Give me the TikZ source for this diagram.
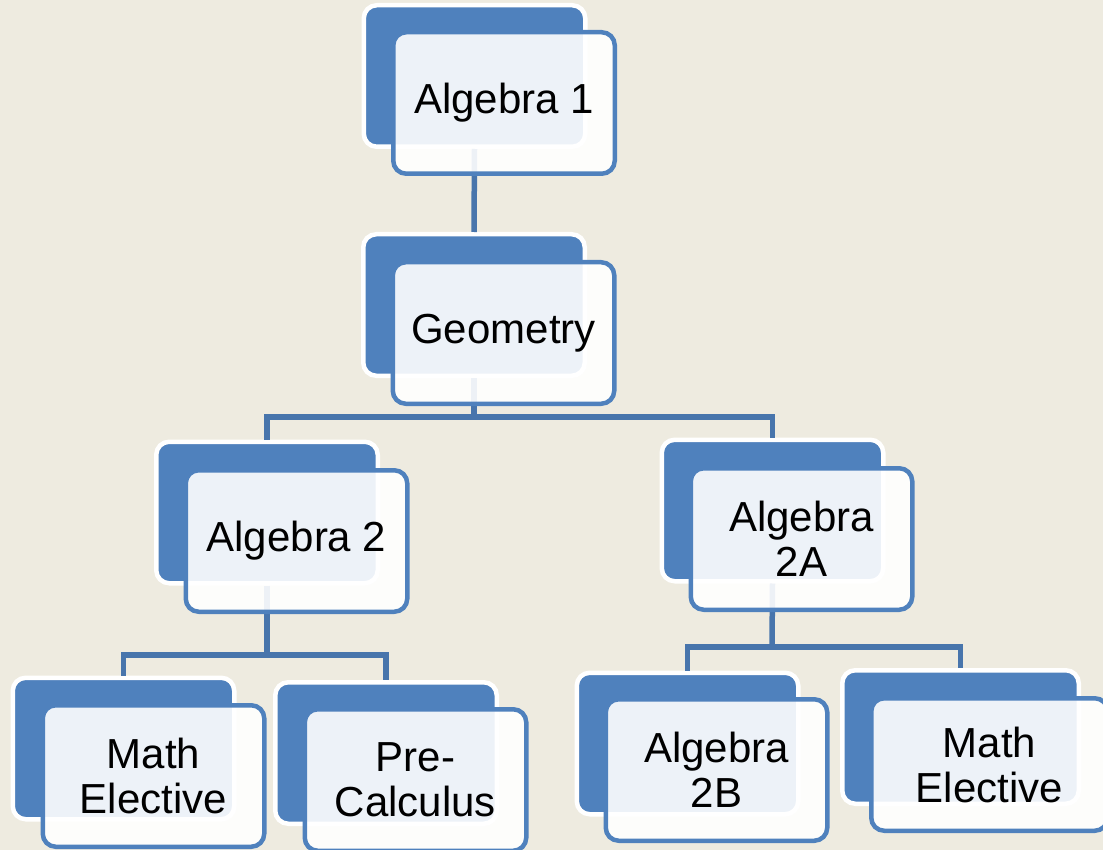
\documentclass[tikz,border=0pt]{standalone}
\usepackage{fontspec}
\setmainfont{Liberation Sans}
\definecolor{bg}{RGB}{238,235,224}
\definecolor{boxblue}{RGB}{79,129,189}
\definecolor{lineblue}{RGB}{72,117,172}
\tikzset{
  backbox/.style={rectangle, rounded corners=13pt, fill=boxblue, draw=white, line width=4.5pt,
    minimum width=221.5pt, minimum height=141.5pt, inner sep=0pt},
  frontbox/.style={rectangle, rounded corners=13pt, fill=white, fill opacity=0.9, text opacity=1,
    draw=boxblue, draw opacity=1, line width=4.5pt,
    minimum width=221.5pt, minimum height=141.5pt, inner sep=0pt, align=center,
    font=\fontsize{42}{45}\selectfont, text=black},
  conn/.style={draw=lineblue, line width=5.5pt}
}
\begin{document}
\begin{tikzpicture}[x=1pt,y=-1pt]
\fill[bg] (0,0) rectangle (1103,850);
\useasboundingbox (0,0) rectangle (1103,850);
% back boxes
\node[backbox] (a1b) at (474.5,76) {};
\node[backbox] (geob) at (474,305) {};
\node[backbox] (a2b) at (267,512.5) {};
\node[backbox] (a2ab) at (772.5,510.5) {};
\node[backbox] (me1b) at (123.5,748.5) {};
\node[backbox] (pcb) at (386,753) {};
\node[backbox] (a2bb) at (687.5,743.5) {};
\node[backbox, minimum width=236.5pt, minimum height=133.5pt] (me2b) at (960.5,737) {};
% bus points
\coordinate (bus1) at (474,417);
\coordinate (bus2) at (267,655);
\coordinate (bus3) at (772,647);
% connectors
\draw[conn] (a1b.south) -- (geob.north);
\draw[conn] (geob.south) -- (bus1);
\draw[conn] (bus1) -| (a2b.north);
\draw[conn] (bus1) -| (a2ab.north);
\draw[conn] (a2b.south) -- (bus2);
\draw[conn] (bus2) -| (me1b.north);
\draw[conn] (bus2) -| (pcb.north);
\draw[conn] (a2ab.south) -- (bus3);
\draw[conn] (bus3) -| (a2bb.north);
\draw[conn] (bus3) -| (me2b.north);
% front boxes
\node[frontbox] (a1) at (504,103) {Algebra 1};
\node[frontbox] (geo) at (503.5,333) {Geometry};
\node[frontbox] (a2) at (296.5,541) {Algebra 2};
\node[frontbox] (a2a) at (801.5,539) {Algebra\\2A};
\node[frontbox] (me1) at (153.5,776) {Math\\Elective};
\node[frontbox] (pc) at (415.5,780) {Pre-\\Calculus};
\node[frontbox] (a2bf) at (716.5,770) {Algebra\\2B};
\node[frontbox, minimum width=236.5pt, minimum height=132.5pt] (me2) at (989.5,764.5) {Math\\Elective};
\end{tikzpicture}
\end{document}
